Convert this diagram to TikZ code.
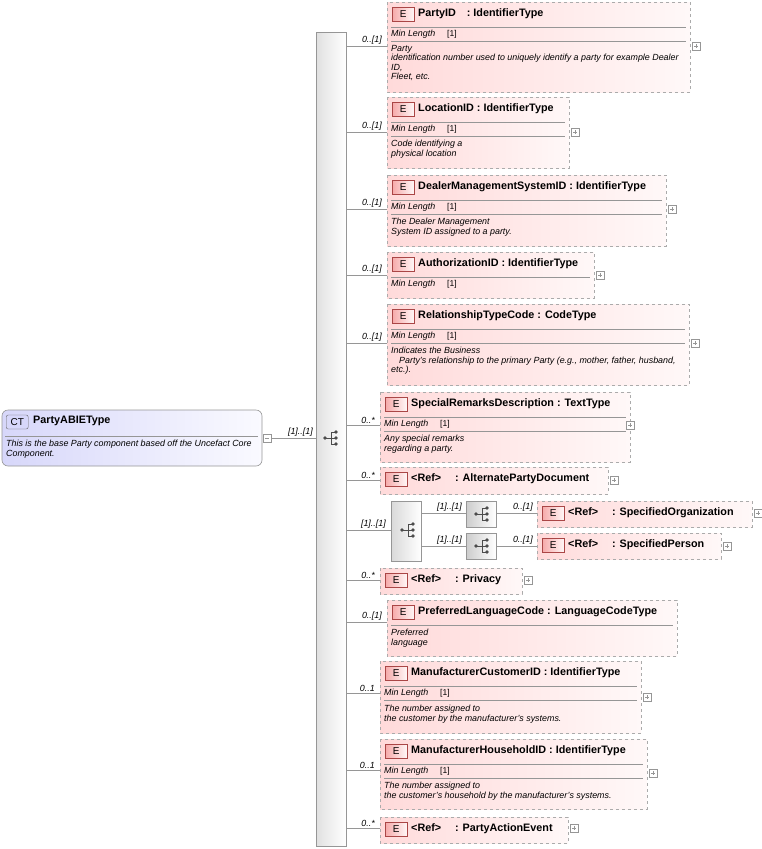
\documentclass[tikz,border=0pt]{standalone}
\usepackage{fontspec}
\setmainfont{Liberation Sans}
\begin{document}
\definecolor{pk1}{RGB}{255,218,218}
\definecolor{pk2}{RGB}{255,248,248}
\definecolor{bdg}{RGB}{246,170,170}
\definecolor{bdgb}{RGB}{170,70,70}
\definecolor{ct1}{RGB}{215,215,250}
\definecolor{ct2}{RGB}{250,250,255}
\definecolor{ln}{RGB}{150,150,150}
\tikzset{
 ebox/.style={draw=ln!80,dashed,line width=0.8pt,left color=pk1,right color=pk2},
 badge/.style={draw=bdgb,line width=0.6pt,left color=bdg,right color=pk2,inner sep=0pt},
 ttl/.style={anchor=west,font=\bfseries\fontsize{10.8}{11}\selectfont,inner sep=0pt},
 sm/.style={anchor=west,font=\itshape\fontsize{8.9}{9.5}\selectfont,inner sep=0pt,align=left},
 sep/.style={draw=ln,line width=0.5pt},
 conn/.style={draw=ln,line width=0.6pt},
 lbl/.style={anchor=south east,font=\itshape\fontsize{8.9}{9}\selectfont,inner sep=1pt},
 plus/.style={draw=ln,fill=white,line width=0.4pt}
}
\newcommand\El[6]{% name x1 y1 x2 y2 title
 \path[ebox] (#2,#3) rectangle (#4,#5);
 \coordinate (#1) at (#2,#3);
 \node[badge,minimum width=22pt,minimum height=14pt,anchor=north west,font=\fontsize{10}{10}\selectfont] (#1b) at (#2+5,#3+5) {E};
 \node[ttl] (#1t) at (#2+31,#3+12) {#6};}
\newcommand\MinL[4]{% x1 x2 y1 withline2
 \draw[sep] (#1+4,#3+25)--(#2-4,#3+25);
 \node[sm] at (#1+4,#3+32) {Min Length};
 \node[sm,font=\fontsize{8.5}{9}\selectfont] at (#1+60,#3+32) {[1]};
 \ifnum#4=1 \draw[sep] (#1+4,#3+39)--(#2-4,#3+39);\fi}
\newcommand\Plus[2]{\draw[plus] (#1,#2-4) rectangle (#1+8,#2+4); \draw[ln,line width=0.4pt] (#1+2,#2)--(#1+6,#2) (#1+4,#2-2)--(#1+4,#2+2);}
\newcommand\Seq[2]{\begin{scope}[shift={(#1,#2)}]
 \fill[black!70] (-6,0) circle (1.8);
 \draw[black!70,line width=0.8pt] (-6,0)--(0,0) (0,-6)--(0,6) (0,-6)--(5,-6) (0,0)--(5,0) (0,6)--(5,6);
 \fill[black!70] (5,-6) circle (1.8) (5,0) circle (1.8) (5,6) circle (1.8);
 \end{scope}}
\begin{tikzpicture}[x=1pt,y=-1pt]
\useasboundingbox (0,0) rectangle (762,849);
% CT
\path[draw=ln,rounded corners=6pt,left color=ct1,right color=ct2,line width=0.6pt] (2,410) rectangle (262,466);
\coordinate (ct) at (262,438);
\node[draw=black!60,rounded corners=2pt,fill=ct1,minimum width=22pt,minimum height=14pt,inner sep=0pt,font=\fontsize{10}{10}\selectfont,anchor=west] (ctb) at (6,422) {CT};
\node[ttl] at (33,421) {PartyABIEType};
\draw[sep] (5,436)--(258,436);
\node[sm] at (6,449) {This is the base Party component based off the Uncefact Core\\Component.};
\draw[plus] (263,434) rectangle (271,442); \draw[ln,line width=0.4pt] (265,438)--(269,438);
% sequence bar
\path[draw=ln,left color=black!12,right color=white,line width=0.6pt] (316,32) rectangle (346,846);
\coordinate (seq) at (316,438);
\draw[conn] (271,438)--(seq);
\node[lbl] at (314,438) {[1]..[1]};
\Seq{331}{438}
% connectors
\foreach \y/\x/\l in {46/387/0..[1],132/387/0..[1],209/387/0..[1],275/387/0..[1],343/387/0..[1],425/380/0..*,480/380/0..*,530/391/[1]..[1],580/380/0..*,622/387/0..[1],693/380/0..1,770/380/0..1,828/380/0..*}{
 \draw[conn] (346,\y)--(\x,\y); \node[lbl] at (\x-4,\y) {\l};}
% 1
\El{e1}{387}{2}{690}{92}{PartyID\quad: IdentifierType}\MinL{387}{690}{2}{1}
\node[sm,anchor=north west] at (391,45) {Party\\identification number used to uniquely identify a party for example Dealer\\ID,\\Fleet, etc.};
\Plus{692}{46}
% 2
\El{e2}{387}{97}{569}{168}{LocationID : IdentifierType}\MinL{387}{569}{97}{1}
\node[sm,anchor=north west] at (391,140) {Code identifying a\\physical location};
\Plus{571}{132}
% 3
\El{e3}{387}{175}{666}{246}{DealerManagementSystemID : IdentifierType}\MinL{387}{666}{175}{1}
\node[sm,anchor=north west] at (391,218) {The Dealer Management\\System ID assigned to a party.};
\Plus{668}{209}
% 4
\El{e4}{387}{252}{594}{298}{AuthorizationID : IdentifierType}\MinL{387}{594}{252}{0}
\Plus{596}{275}
% 5
\El{e5}{387}{304}{689}{385}{RelationshipTypeCode : CodeType}\MinL{387}{689}{304}{1}
\node[sm,anchor=north west] at (391,347) {Indicates the Business\\\hspace*{8pt}Party's relationship to the primary Party (e.g., mother, father, husband,\\etc.).};
\Plus{691}{343}
% 6
\El{e6}{380}{392}{630}{462}{SpecialRemarksDescription : TextType}\MinL{380}{630}{392}{1}
\node[sm,anchor=north west] at (384,435) {Any special remarks\\regarding a party.};
\Plus{626}{425}
% 7
\El{e7}{380}{467}{608}{494}{<Ref>\quad\ : AlternatePartyDocument}\Plus{610}{480}
% choice
\path[draw=ln,left color=black!15,right color=white,line width=0.6pt] (391,501) rectangle (421,561);
\coordinate (ch) at (421,530);
\Seq{408}{530}
\path[draw=ln,left color=black!20,right color=white,line width=0.6pt] (466,501) rectangle (496,527);
\path[draw=ln,left color=black!20,right color=white,line width=0.6pt] (466,533) rectangle (496,559);
\coordinate (s1) at (466,513); \coordinate (s2) at (466,546);
\Seq{482}{514}\Seq{482}{546}
\draw[conn] (421,513)--(s1); \node[lbl] at (463,513) {[1]..[1]};
\draw[conn] (421,546)--(s2); \node[lbl] at (463,546) {[1]..[1]};
\El{e8}{537}{501}{752}{527}{<Ref>\quad\ : SpecifiedOrganization}\Plus{754}{513}
\El{e9}{537}{533}{721}{559}{<Ref>\quad\ : SpecifiedPerson}\Plus{723}{546}
\draw[conn] (496,513)--(537,513); \node[lbl] at (534,513) {0..[1]};
\draw[conn] (496,546)--(537,546); \node[lbl] at (534,546) {0..[1]};
% 10
\El{e10}{380}{568}{522}{594}{<Ref>\quad\ : Privacy}\Plus{524}{580}
% 11
\El{e11}{387}{600}{677}{656}{PreferredLanguageCode : LanguageCodeType}
\draw[sep] (391,625)--(673,625);
\node[sm,anchor=north west] at (391,629) {Preferred\\language};
% 12
\El{e12}{380}{661}{641}{733}{ManufacturerCustomerID : IdentifierType}\MinL{380}{641}{661}{1}
\node[sm,anchor=north west] at (384,705) {The number assigned to\\the customer by the manufacturer's systems.};
\Plus{643}{697}
% 13
\El{e13}{380}{739}{647}{809}{ManufacturerHouseholdID : IdentifierType}\MinL{380}{647}{739}{1}
\node[sm,anchor=north west] at (384,782) {The number assigned to\\the customer's household by the manufacturer's systems.};
\Plus{649}{773}
% 14
\El{e14}{380}{817}{568}{843}{<Ref>\quad\ : PartyActionEvent}\Plus{570}{828}
\end{tikzpicture}
\end{document}
